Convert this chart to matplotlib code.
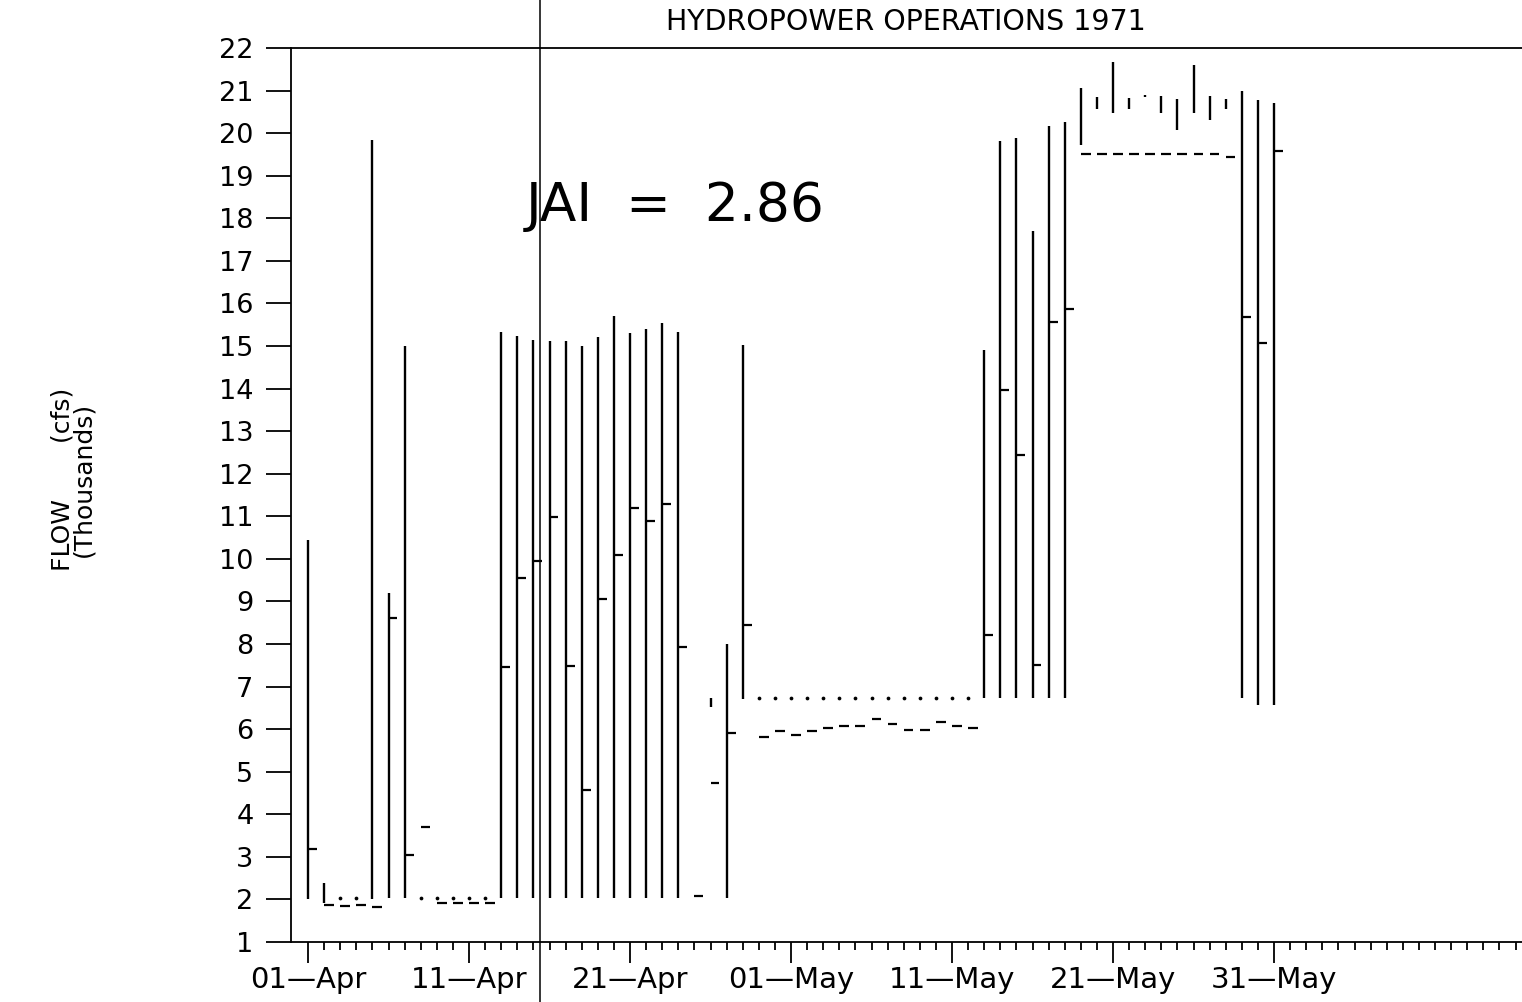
import numpy as np
import matplotlib
matplotlib.use("Agg")
import matplotlib.pyplot as plt
from matplotlib.lines import Line2D

plt.rcParams['font.family'] = ['DejaVu Sans']

# days counted from 01-Apr-1971
bar_day  = [0, 1, 4, 5, 6, 12, 13, 14, 15, 16, 17, 18, 19, 20, 21, 22, 23,
            25, 26, 27, 42, 43, 44, 45, 46, 47,
            48, 49, 50, 51, 52, 53, 54, 55, 56, 57, 58, 59, 60]
bar_low  = [2.0, 1.91, 2.0, 2.03, 2.03, 2.03, 2.03, 2.03, 2.03, 2.03, 2.03, 2.03, 2.03, 2.03, 2.03, 2.03, 2.03,
            6.52, 2.03, 6.71, 6.73, 6.73, 6.73, 6.73, 6.73, 6.73,
            19.73, 20.57, 20.47, 20.57, 20.84, 20.47, 20.08, 20.47, 20.32, 20.57, 6.73, 6.57, 6.57]
bar_high = [10.45, 2.39, 19.85, 9.2, 15.0, 15.34, 15.23, 15.14, 15.12, 15.12, 15.0, 15.2, 15.71, 15.31, 15.41, 15.53, 15.34,
            6.72, 8.01, 15.03, 14.9, 19.81, 19.89, 17.69, 20.16, 20.27,
            21.06, 20.86, 21.67, 20.83, 20.9, 20.88, 20.8, 21.6, 20.88, 20.8, 20.98, 20.78, 20.7]

# short mark on the right side of each day
tick_day = [0, 5, 6, 7, 12, 13, 14, 15, 16, 17, 18, 19, 20, 21, 22, 23, 24, 25, 26, 27,
            42, 43, 44, 45, 46, 47, 58, 59, 60]
tick_val = [3.18, 8.61, 3.04, 3.70, 7.47, 9.55, 9.95, 10.98, 7.49, 4.57, 9.05, 10.09, 11.2, 10.9, 11.28, 7.92, 2.08, 4.73, 5.9, 8.45,
            8.2, 13.97, 12.43, 7.5, 15.57, 15.87, 15.69, 15.08, 19.58]

# dashed series
dash_day = [1, 2, 3, 4, 8, 9, 10, 11,
            28, 29, 30, 31, 32, 33, 34, 35, 36, 37, 38, 39, 40, 41,
            48, 49, 50, 51, 52, 53, 54, 55, 56, 57]
dash_val = [1.88, 1.85, 1.87, 1.83, 1.91, 1.91, 1.91, 1.91,
            5.82, 5.96, 5.87, 5.96, 6.03, 6.07, 6.07, 6.23, 6.13, 5.99, 5.99, 6.16, 6.08, 6.03,
            19.5, 19.52, 19.52, 19.52, 19.52, 19.52, 19.52, 19.52, 19.52, 19.45]

# dotted series
dot_day = [2, 3, 7, 8, 9, 10, 11,
           28, 29, 30, 31, 32, 33, 34, 35, 36, 37, 38, 39, 40, 41]
dot_val = [2.03, 2.03, 2.03, 2.03, 2.03, 2.03, 2.03,
           6.72, 6.72, 6.72, 6.72, 6.72, 6.72, 6.72, 6.72, 6.72, 6.72, 6.72, 6.72, 6.72, 6.72]

major_days = [0, 10, 20, 30, 40, 50, 60]
major_labels = ['01\u2014Apr', '11\u2014Apr', '21\u2014Apr', '01\u2014May',
                '11\u2014May', '21\u2014May', '31\u2014May']

fig = plt.figure(figsize=(15.22, 10.02), dpi=100)
ax = fig.add_axes([291/1522, 60/1002, 1 - 291/1522, 894/1002])

ax.vlines(bar_day, bar_low, bar_high, color='k', lw=1.7)
td = np.array(tick_day)
ax.hlines(tick_val, td, td + 0.55, color='k', lw=1.6)
dd = np.array(dash_day)
ax.hlines(dash_val, dd, dd + 0.6, color='k', lw=1.6)
ax.plot(dot_day, dot_val, ls='none', marker='o', ms=2.7, mew=0, color='k')

ax.set_xlim(-1.06, 75.4)
ax.set_ylim(1, 22)

ax.set_yticks(range(1, 23))
ax.tick_params(axis='y', direction='out', length=18, width=1.3, labelsize=19.5, pad=9)
ax.set_xticks(major_days)
ax.set_xticklabels(major_labels)
ax.set_xticks(np.arange(0, 76), minor=True)
ax.tick_params(axis='x', which='major', direction='out', length=15, width=1.3, labelsize=21, pad=2)
ax.tick_params(axis='x', which='minor', direction='out', length=6, width=1.3)

ax.spines['right'].set_visible(False)
for s in ['left', 'bottom', 'top']:
    ax.spines[s].set_linewidth(1.3)

ax.text(13.5, 18.3, 'JAI  =  2.86', fontsize=38.5, ha='left', va='center')

fig.text(906/1522, 1 - 22/1002, 'HYDROPOWER OPERATIONS 1971', fontsize=20.5,
         ha='center', va='center')
fig.text(73/1522, 1 - 479/1002, 'FLOW       (cfs)\n(Thousands)', fontsize=18,
         rotation=90, ha='center', va='center', multialignment='center',
         linespacing=0.85)

# crease in the scanned page
fig.add_artist(Line2D([540/1522, 540/1522], [0, 1], transform=fig.transFigure,
                      color='k', lw=1.1))

fig.savefig('out.png', dpi=100)
